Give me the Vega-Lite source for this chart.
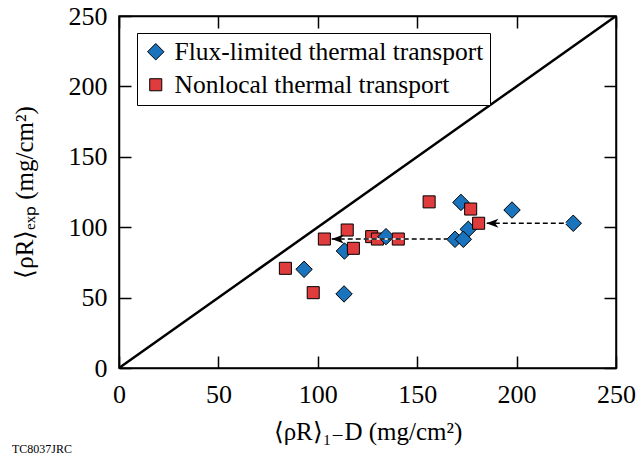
{
  "$schema": "https://vega.github.io/schema/vega-lite/v6.json",
  "width": 497,
  "height": 352,
  "autosize": {"type": "none"},
  "padding": {"left": 119, "top": 16, "right": 28, "bottom": 90},
  "background": "white",
  "config": {
    "font": "Liberation Serif",
    "view": {"stroke": "black", "strokeWidth": 1.5},
    "axis": {"grid": false}
  },
  "title": {
    "text": "TC8037JRC",
    "orient": "bottom",
    "anchor": "start",
    "frame": "group",
    "fontSize": 12,
    "fontWeight": "normal",
    "font": "Liberation Serif",
    "color": "black",
    "dx": -107,
    "offset": 0
  },
  "datasets": {
    "pts": [
      {"series": "Flux-limited thermal transport", "x": 172, "y": 117.6},
      {"series": "Flux-limited thermal transport", "x": 197.7, "y": 112.2},
      {"series": "Flux-limited thermal transport", "x": 228.5, "y": 102.8},
      {"series": "Flux-limited thermal transport", "x": 175.7, "y": 98.5},
      {"series": "Flux-limited thermal transport", "x": 169, "y": 91.4},
      {"series": "Flux-limited thermal transport", "x": 173.2, "y": 91.4},
      {"series": "Flux-limited thermal transport", "x": 113.4, "y": 83.1},
      {"series": "Flux-limited thermal transport", "x": 93.1, "y": 70.1},
      {"series": "Flux-limited thermal transport", "x": 113.2, "y": 52.6},
      {"series": "Nonlocal thermal transport", "x": 156, "y": 118},
      {"series": "Nonlocal thermal transport", "x": 176.9, "y": 112.9},
      {"series": "Nonlocal thermal transport", "x": 180.9, "y": 102.8},
      {"series": "Nonlocal thermal transport", "x": 114.8, "y": 98},
      {"series": "Nonlocal thermal transport", "x": 103.3, "y": 91.6},
      {"series": "Nonlocal thermal transport", "x": 117.9, "y": 85},
      {"series": "Nonlocal thermal transport", "x": 127.1, "y": 93.3},
      {"series": "Nonlocal thermal transport", "x": 130, "y": 91.6},
      {"series": "Flux-limited thermal transport", "x": 134.3, "y": 93.3},
      {"series": "Nonlocal thermal transport", "x": 140.5, "y": 91.6},
      {"series": "Nonlocal thermal transport", "x": 83.7, "y": 70.8},
      {"series": "Nonlocal thermal transport", "x": 97.7, "y": 53.5}
    ],
    "diag": [
      {"x": 0, "y": 0},
      {"x": 250, "y": 250}
    ],
    "arrows": [
      {"x": 185, "x2": 225, "y": 102.8, "head": 187.8},
      {"x": 107, "x2": 165, "y": 91.6, "head": 110}
    ]
  },
  "layer": [
    {
      "data": {"name": "diag"},
      "mark": {"type": "line", "color": "black", "strokeWidth": 2.5, "clip": true},
      "encoding": {
        "x": {
          "field": "x", "type": "quantitative",
          "scale": {"domain": [0, 250], "nice": false, "zero": false},
          "axis": {
            "orient": "bottom",
            "values": [0, 50, 100, 150, 200, 250],
            "tickSize": -12,
            "tickColor": "black",
            "tickWidth": 1.5,
            "domainColor": "black",
            "domainWidth": 1.5,
            "labelFont": "Liberation Serif",
            "labelFontSize": 26,
            "labelColor": "black",
            "labelPadding": 25,
            "labelFlush": false,
            "title": "⟨ρR⟩₁₋D (mg/cm²)",
            "titleFont": "Liberation Serif",
            "titleFontSize": 25,
            "titleFontWeight": "normal",
            "titleColor": "black",
            "titlePadding": 12
          }
        },
        "y": {
          "field": "y", "type": "quantitative",
          "scale": {"domain": [0, 250], "nice": false, "zero": false},
          "axis": {
            "orient": "left",
            "values": [0, 50, 100, 150, 200, 250],
            "tickSize": -12,
            "tickColor": "black",
            "tickWidth": 1.5,
            "domainColor": "black",
            "domainWidth": 1.5,
            "labelFont": "Liberation Serif",
            "labelFontSize": 26,
            "labelColor": "black",
            "labelPadding": 24,
            "labelFlush": false,
            "title": "⟨ρR⟩ₑₓₚ (mg/cm²)",
            "titleFont": "Liberation Serif",
            "titleFontSize": 25,
            "titleFontWeight": "normal",
            "titleColor": "black",
            "titlePadding": 31
          }
        }
      }
    },
    {
      "data": {"name": "diag"},
      "mark": {"type": "point", "opacity": 0},
      "encoding": {
        "x": {
          "field": "x", "type": "quantitative",
          "axis": {
            "orient": "top",
            "values": [0, 50, 100, 150, 200, 250],
            "tickSize": -12,
            "tickColor": "black",
            "tickWidth": 1.5,
            "domainColor": "black",
            "domainWidth": 1.5,
            "labels": false,
            "title": null
          }
        },
        "y": {
          "field": "y", "type": "quantitative",
          "axis": {
            "orient": "right",
            "values": [0, 50, 100, 150, 200, 250],
            "tickSize": -12,
            "tickColor": "black",
            "tickWidth": 1.5,
            "domainColor": "black",
            "domainWidth": 1.5,
            "labels": false,
            "title": null
          }
        }
      }
    },
    {
      "data": {"name": "pts"},
      "mark": {"type": "point", "filled": true, "opacity": 1, "stroke": "black", "strokeWidth": 1},
      "encoding": {
        "x": {"field": "x", "type": "quantitative", "axis": null},
        "y": {"field": "y", "type": "quantitative", "axis": null},
        "color": {
          "field": "series", "type": "nominal",
          "scale": {"domain": ["Flux-limited thermal transport", "Nonlocal thermal transport"], "range": ["#1a74bd", "#e03c3e"]},
          "legend": {
            "title": null,
            "orient": "none",
            "legendX": 18,
            "legendY": 17,
            "strokeColor": "black",
            "fillColor": "white",
            "padding": 6,
            "labelFontSize": 25.5,
            "labelColor": "black",
            "labelFont": "Liberation Serif",
            "labelLimit": 400,
            "rowPadding": 6,
            "symbolOffset": 0,
            "labelOffset": 6,
            "symbolStrokeColor": "black",
            "symbolStrokeWidth": 1
          }
        },
        "shape": {
          "field": "series", "type": "nominal",
          "scale": {"domain": ["Flux-limited thermal transport", "Nonlocal thermal transport"], "range": ["diamond", "square"]}
        },
        "size": {
          "field": "series", "type": "nominal",
          "scale": {"domain": ["Flux-limited thermal transport", "Nonlocal thermal transport"], "range": [270, 145]}
        }
      }
    },
    {
      "data": {"name": "arrows"},
      "mark": {"type": "rule", "color": "white", "strokeWidth": 1.5},
      "encoding": {
        "x": {"field": "x", "type": "quantitative", "axis": null},
        "x2": {"field": "x2"},
        "y": {"field": "y", "type": "quantitative", "axis": null}
      }
    },
    {
      "data": {"name": "arrows"},
      "mark": {"type": "rule", "color": "black", "strokeWidth": 1.5, "strokeDash": [5, 3]},
      "encoding": {
        "x": {"field": "x", "type": "quantitative", "axis": null},
        "x2": {"field": "x2"},
        "y": {"field": "y", "type": "quantitative", "axis": null}
      }
    },
    {
      "data": {"name": "arrows"},
      "mark": {"type": "point", "shape": "M-1,0L1,-0.75L0.45,0L1,0.75Z", "filled": true, "color": "black", "opacity": 1, "size": 150},
      "encoding": {
        "x": {"field": "head", "type": "quantitative", "axis": null},
        "y": {"field": "y", "type": "quantitative", "axis": null}
      }
    }
  ],
  "resolve": {"axis": {"x": "independent", "y": "independent"}}
}
